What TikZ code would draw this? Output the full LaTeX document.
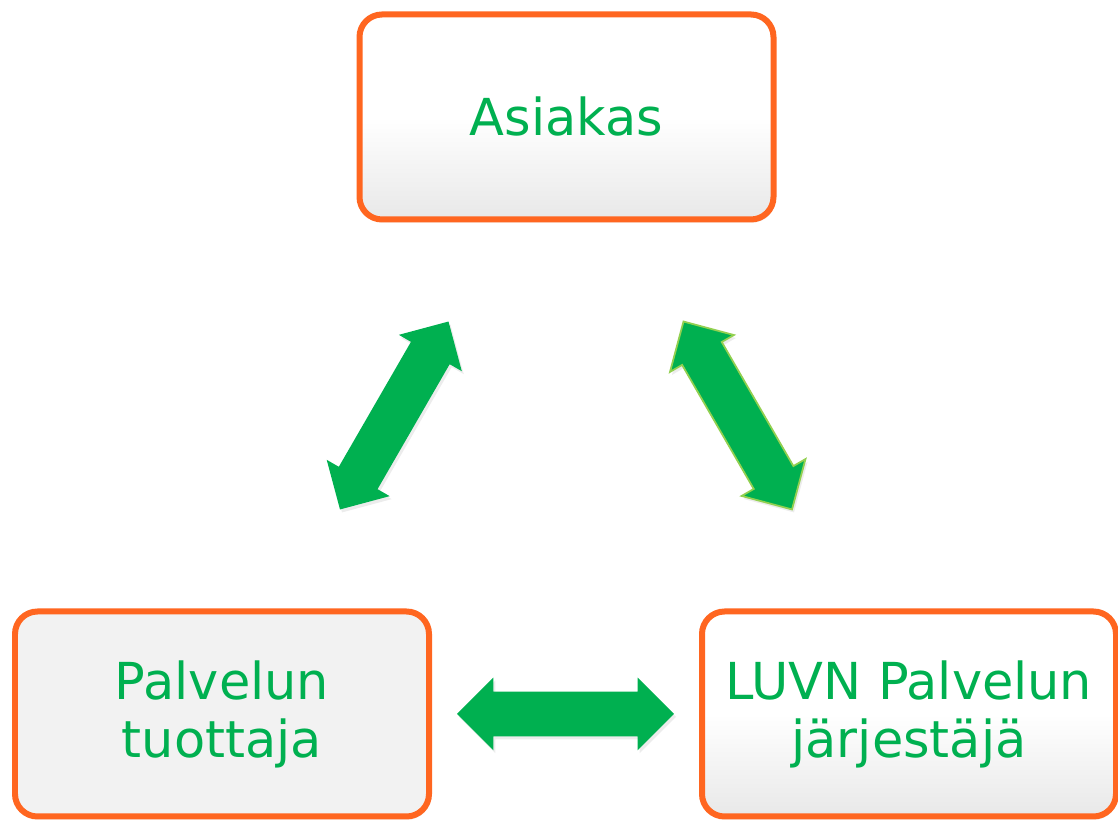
\documentclass[tikz,border=0pt]{standalone}
\usepackage{fontspec}
\setmainfont{DejaVu Sans}
\usetikzlibrary{positioning,calc,shapes.arrows,shadows}
\definecolor{boxorange}{RGB}{255,102,32}
\definecolor{luvngreen}{RGB}{0,176,80}
\definecolor{edgegreen}{RGB}{146,208,80}

\begin{document}
\begin{tikzpicture}[node distance=11.94cm]
  \tikzstyle{box}=[rectangle,rounded corners=0.45cm,draw=boxorange,line width=0.12cm,
    minimum width=8.28cm,minimum height=4.1cm,text=luvngreen,align=center,
    font=\fontsize{29}{33}\selectfont,
    drop shadow={shadow xshift=0.03cm,shadow yshift=-0.06cm,opacity=0.18}]
  \tikzstyle{shaded}=[top color=white,bottom color=black!9,middle color=white]
  \tikzstyle{flat}=[fill=black!5]
  \tikzstyle{darrow}=[double arrow,fill=luvngreen,inner xsep=0pt,inner ysep=0.44cm,
    minimum height=4.34cm,minimum width=1.44cm,double arrow head extend=0.28cm,
    drop shadow={shadow xshift=0.04cm,shadow yshift=-0.06cm,opacity=0.15}]

  \useasboundingbox (0,0) rectangle (22.36,16.4);

  \node[box,shaded] (A) at (11.33,14.06) {Asiakas};
  \node[box,flat] (P) [below of=A,xshift=-6.89cm] {Palvelun\\tuottaja};
  \node[box,shaded] (L) [below of=A,xshift=6.85cm] {LUVN Palvelun\\järjestäjä};

  \node[darrow,rotate=60] (AP) at ($(A)!0.5!(P)$) {};
  \node[darrow,rotate=-60,draw=edgegreen,line width=1pt] (AL) at ($(A)!0.5!(L)$) {};
  \node[darrow] (PL) at ($(P)!0.5!(L)$) {};
\end{tikzpicture}
\end{document}
